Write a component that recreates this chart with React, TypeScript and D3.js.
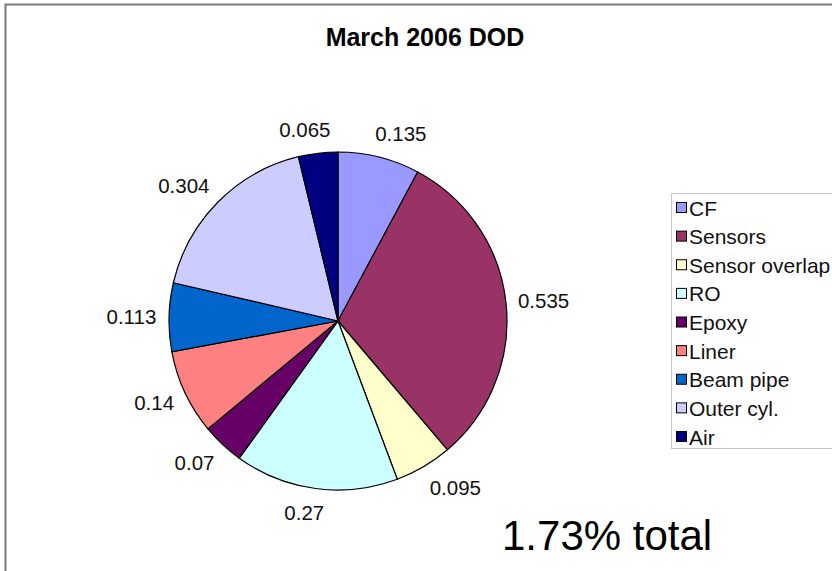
import React from "react";
import * as d3 from "d3";

const categories = ["CF", "Sensors", "Sensor overlap", "RO", "Epoxy", "Liner", "Beam pipe", "Outer cyl.", "Air"];
const values = [0.135, 0.535, 0.095, 0.27, 0.07, 0.14, 0.113, 0.304, 0.065];
const valueLabels = ["0.135", "0.535", "0.095", "0.27", "0.07", "0.14", "0.113", "0.304", "0.065"];
const colors = ["#9999FF", "#993366", "#FFFFCC", "#CCFFFF", "#660066", "#FF8080", "#0066CC", "#CCCCFF", "#000080"];
const title = "March 2006 DOD";
const note = "1.73% total";

const W = 832;
const H = 571;
const cx = 338;
const cy = 321;
const R = 169;
const labelFont = 20.5;

export default function App() {
  const pie = d3.pie<number>().sort(null).value((d) => d)(values);
  const arc = d3.arc<d3.PieArcDatum<number>>().innerRadius(0).outerRadius(R);
  const color = d3.scaleOrdinal<string, string>().domain(categories).range(colors);
  const legendY = d3.scalePoint<string>().domain(categories).range([208, 437]);

  const labelPos = (a: d3.PieArcDatum<number>, text: string) => {
    const mid = (a.startAngle + a.endAngle) / 2;
    const s = Math.sin(mid);
    const c = Math.cos(mid);
    const hw = (text.replace(".", "").length * 0.556 + 0.278) * labelFont / 2;
    const r2 = R + 12;
    const kx = Math.min(1, 2.2 * Math.abs(s) + 0.2);
    return [cx + r2 * s + Math.sign(s) * hw * kx, cy - r2 * c - 12 * c];
  };

  return (
    <svg width={W} height={H} style={{ position: "absolute", left: 0, top: 0, background: "#fff" }}
      fontFamily="Liberation Sans, Arial, sans-serif">
      <rect x={0} y={0} width={W} height={H} fill="#fff" />
      <rect x={5.5} y={4.5} width={W + 20} height={H + 20} fill="none" stroke="#7a7a7a" strokeWidth={2} />
      <text x={425} y={46} textAnchor="middle" fontSize={25} fontWeight="bold" fill="#000">{title}</text>
      <g>
        {pie.map((a, i) => (
          <path key={categories[i]} d={arc(a) ?? ""} transform={`translate(${cx},${cy})`}
            fill={color(categories[i])} stroke="#000" strokeWidth={1.2} />
        ))}
      </g>
      <g>
        {pie.map((a, i) => {
          const [x, y] = labelPos(a, valueLabels[i]);
          return (
            <text key={"l" + i} x={x} y={y} textAnchor="middle" dominantBaseline="central"
              fontSize={labelFont} fill="#111">{valueLabels[i]}</text>
          );
        })}
      </g>
      <g>
        <rect x={671.5} y={193.5} width={200} height={255} fill="#fff" stroke="#c8c8c8" strokeWidth={1} />
        {categories.map((c) => (
          <g key={"lg" + c} transform={`translate(676,${legendY(c)})`}>
            <rect x={0.5} y={-5.5} width={10} height={10} fill={color(c)} stroke="#000" strokeWidth={1} />
            <text x={13} y={0} dominantBaseline="central" fontSize={21} fill="#111">{c}</text>
          </g>
        ))}
      </g>
      <text x={502} y={550} fontSize={42} fill="#000">{note}</text>
    </svg>
  );
}
